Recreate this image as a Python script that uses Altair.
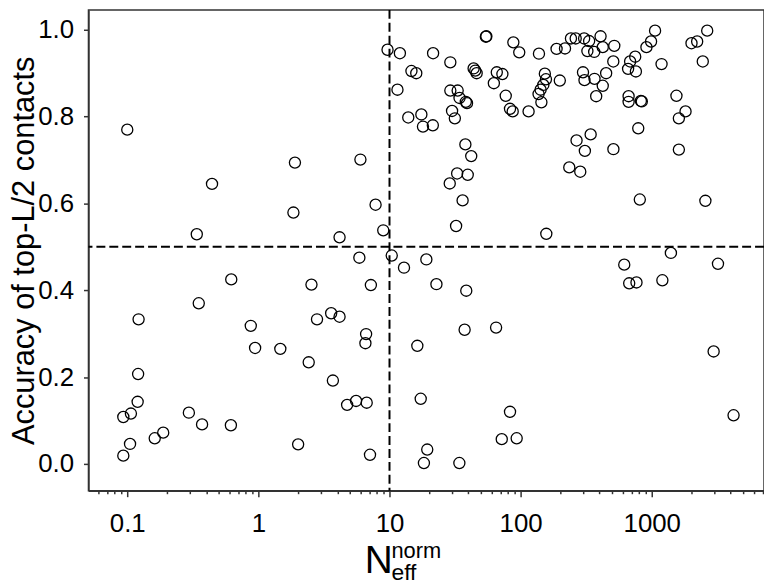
import altair as alt
import pandas as pd

neff = [0.100, 1.90, 0.443, 1.85, 0.339, 6.0, 7.83, 8.96, 4.16, 5.89, 9.66,
        0.621, 2.54, 7.21, 0.351, 0.122, 2.80, 3.59, 4.16, 0.875, 6.63, 6.55,
        0.944, 1.47, 2.42, 0.121, 3.70, 0.120, 0.0933, 0.1066, 0.295, 0.372,
        0.617, 0.162, 0.188, 0.105, 0.0933, 2.01, 4.75, 5.56, 6.70, 7.10,
        10.4, 12.9, 19.1, 22.8, 38.5, 16.3, 37.4, 65.0, 17.3, 83.0, 71.8, 93.3,
        19.4, 18.3, 34.1, 617, 673, 765, 1205, 1400, 3200, 2965, 4207,
        12.0, 14.7, 16.0, 11.5, 13.9, 17.5, 18.0, 21.4, 21.5, 29.1, 54.3, 54.8,
        88.0, 97.6, 138, 188, 218, 242, 263, 305, 333, 407, 323, 364, 423, 518,
        509, 449, 366, 423, 377, 299, 307, 199, 153, 156, 149, 142, 137, 144,
        115, 83.0, 87.0, 77.0, 62.5, 65.8, 72.6, 43.8, 45.1, 46.2, 29.1, 33.1,
        34.2, 38.2, 39.0, 30.0, 31.5, 37.9, 42.0, 32.8, 39.5, 28.8, 36.1, 32.2,
        157, 267, 342, 309, 235, 285, 510, 811, 789, 666, 666, 826, 840, 684,
        660, 748, 757, 911, 988, 1060, 1188, 1543, 1810, 1610, 1610, 2010, 2220,
        2648, 2450, 2565]
acc = [0.770, 0.694, 0.645, 0.579, 0.529, 0.701, 0.597, 0.538, 0.522, 0.475, 0.954,
       0.425, 0.413, 0.412, 0.370, 0.333, 0.333, 0.347, 0.339, 0.318, 0.299, 0.278,
       0.267, 0.265, 0.234, 0.207, 0.192, 0.143, 0.108, 0.116, 0.118, 0.091,
       0.089, 0.059, 0.072, 0.046, 0.019, 0.045, 0.136, 0.145, 0.141, 0.021,
       0.480, 0.452, 0.471, 0.414, 0.399, 0.272, 0.309, 0.314, 0.150, 0.120, 0.057, 0.059,
       0.033, 0.002, 0.002, 0.459, 0.416, 0.418, 0.423, 0.486, 0.461, 0.259, 0.112,
       0.946, 0.905, 0.900, 0.862, 0.798, 0.805, 0.777, 0.780, 0.946, 0.925, 0.984, 0.985,
       0.971, 0.948, 0.945, 0.956, 0.957, 0.980, 0.980, 0.980, 0.974, 0.985, 0.951, 0.949, 0.960, 0.963,
       0.927, 0.900, 0.887, 0.871, 0.847, 0.902, 0.884, 0.883, 0.899, 0.886, 0.873, 0.862, 0.852, 0.833,
       0.812, 0.818, 0.812, 0.848, 0.877, 0.902, 0.898, 0.911, 0.906, 0.900, 0.860, 0.860,
       0.843, 0.834, 0.831, 0.813, 0.796, 0.736, 0.709, 0.669, 0.666, 0.646, 0.607, 0.548,
       0.530, 0.745, 0.759, 0.721, 0.683, 0.673, 0.725, 0.609, 0.773, 0.847, 0.834, 0.836, 0.835, 0.927,
       0.910, 0.938, 0.904, 0.960, 0.973, 0.998, 0.921, 0.848, 0.812, 0.796, 0.724, 0.969, 0.973,
       0.998, 0.927, 0.606]

x_major = [0.1, 1, 10, 100, 1000]
x_minor = [0.06, 0.07, 0.08, 0.09,
           0.2, 0.3, 0.4, 0.5, 0.6, 0.7, 0.8, 0.9,
           2, 3, 4, 5, 6, 7, 8, 9,
           20, 30, 40, 50, 60, 70, 80, 90,
           200, 300, 400, 500, 600, 700, 800, 900,
           2000, 3000, 4000, 5000, 6000, 7000]
y_ticks = [0.0, 0.2, 0.4, 0.6, 0.8, 1.0]
cut_x = [10]
cut_y = [0.5]
y_title = "Accuracy of top-L/2 contacts"
x_title_main = ["N"]
x_title_sup = ["norm"]
x_title_sub = ["eff"]

FONT = "Liberation Sans"
FRAME = "#333333"

df = pd.DataFrame({"neff": neff, "acc": acc})
xscale = alt.Scale(type="log", domain=[0.0506, 7180], nice=False)
yscale = alt.Scale(domain=[-0.0618, 1.0458], nice=False, zero=False)

is_major = "abs(log(datum.value)/LN10 - round(log(datum.value)/LN10)) < 0.01"
xaxis = alt.Axis(
    values=x_major + x_minor, format="~g",
    labelExpr=f"({is_major}) ? datum.label : ''",
    tickSize={"condition": {"test": is_major, "value": 6}, "value": 3},
    labelOverlap=False, labelFlush=False, labelPadding=14,
    title=None, grid=False,
)
yaxis = alt.Axis(
    values=y_ticks, format=".1f", tickSize=5, labelPadding=10,
    title=y_title, titlePadding=-3, grid=False,
)

points = alt.Chart(df).mark_point(
    shape="circle", filled=False, color="black", size=125,
    strokeWidth=1.3, opacity=1,
).encode(
    x=alt.X("neff:Q", scale=xscale, axis=xaxis),
    y=alt.Y("acc:Q", scale=yscale, axis=yaxis),
)

vline = alt.Chart(pd.DataFrame({"v": cut_x})).mark_rule(
    color="black", strokeWidth=2, strokeDash=[9, 4]
).encode(x=alt.X("v:Q", scale=xscale, axis=xaxis))

hline = alt.Chart(pd.DataFrame({"h": cut_y})).mark_rule(
    color="black", strokeWidth=2, strokeDash=[9, 4]
).encode(y=alt.Y("h:Q", scale=yscale, axis=yaxis))

t_main = alt.Chart(pd.DataFrame({"t": x_title_main})).mark_text(
    font=FONT, fontSize=39, align="left", baseline="alphabetic", color="black"
).encode(text="t:N", x=alt.value(278), y=alt.value(567))
t_sup = alt.Chart(pd.DataFrame({"t": x_title_sup})).mark_text(
    font=FONT, fontSize=22, align="left", baseline="alphabetic", color="black"
).encode(text="t:N", x=alt.value(305), y=alt.value(552))
t_sub = alt.Chart(pd.DataFrame({"t": x_title_sub})).mark_text(
    font=FONT, fontSize=23, align="left", baseline="alphabetic", color="black"
).encode(text="t:N", x=alt.value(305), y=alt.value(574))

chart = alt.layer(vline, hline, points, t_main, t_sup, t_sub).properties(
    width=680, height=484,
    autosize=alt.AutoSizeParams(type="none"),
    padding={"left": 81, "top": 0, "right": 0, "bottom": 94},
).configure_view(
    stroke=FRAME, strokeWidth=1.5
).configure_axis(
    domainColor=FRAME, domainWidth=1.5, tickColor=FRAME, tickWidth=1.5,
    labelFont=FONT, labelFontSize=26, labelColor="black",
    titleFont=FONT, titleFontSize=31, titleFontWeight="normal", titleColor="black",
)

chart.save("out.html", embed_options={"renderer": "svg", "actions": False})
